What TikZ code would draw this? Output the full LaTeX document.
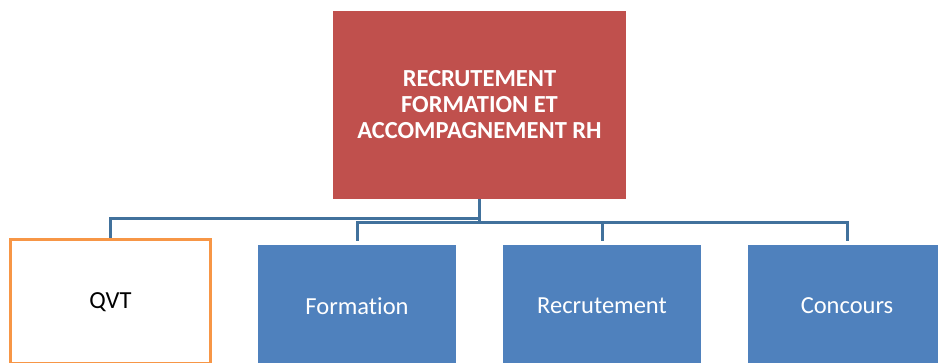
\documentclass[tikz,border=0pt]{standalone}
\usepackage{fontspec}
\setmainfont{Carlito}[Ligatures=NoCommon]
\definecolor{headred}{HTML}{C0504D}
\definecolor{unitblue}{HTML}{4F81BD}
\definecolor{linkblue}{HTML}{41719C}
\definecolor{qvtorange}{HTML}{F79646}
\begin{document}
\begin{tikzpicture}[x=1pt,y=-1pt,
    head/.style={fill=headred,text=white,font=\fontsize{24.5}{26}\selectfont\bfseries,
        align=center,minimum width=293pt,minimum height=188pt,inner sep=0pt},
    unit/.style={fill=unitblue,text=white,font=\fontsize{24.5}{26}\selectfont,
        minimum width=198pt,minimum height=122pt,inner sep=0pt},
    qvtbox/.style={draw=qvtorange,line width=3pt,fill=white,font=\fontsize{24.5}{26}\selectfont,
        minimum width=200pt,minimum height=124pt,inner sep=0pt},
    link/.style={draw=linkblue,line width=3pt}]
    %% frame
    \clip (0,0) rectangle (938,363);
    %% boxes
    \node[head] (top) at (479.5,105) {RECRUTEMENT\\FORMATION ET\\ACCOMPAGNEMENT RH};
    \node[qvtbox] (qvt) at (110.5,302) {QVT};
    \node[unit] (formation) at (357,306) {Formation};
    \node[unit] (recrutement) at (602,306) {Recrutement};
    \node[unit] (concours) at (847,306) {Concours};
    %% links
    \draw[link] (top.south) -- ++(0,19) -| (qvt.north);
    \draw[link,shorten >=4pt] (top.south) -- ++(0,23) -| (formation.north);
    \draw[link,shorten >=4pt] (top.south) -- ++(0,23) -| (recrutement.north);
    \draw[link,shorten >=4pt] (top.south) -- ++(0,23) -| (concours.north);
\end{tikzpicture}
\end{document}
